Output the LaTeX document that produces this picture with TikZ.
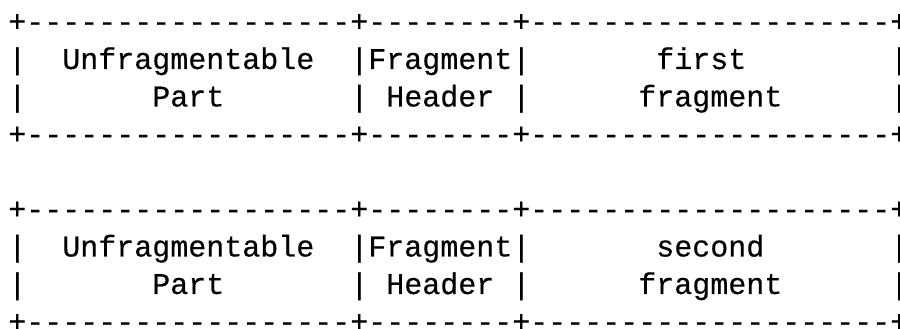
\documentclass[tikz,border=0pt]{standalone}
\usepackage{fontspec}
\setmonofont[FakeBold=0.4]{Liberation Mono}
\tikzset{
  asc/.style={font=\ttfamily\fontsize{30}{30}\selectfont, anchor=base west,
              inner sep=0pt, outer sep=0pt, text=black}
}
% \ascput{name}{column}{baseline y in pt}{text}
\newcommand\ascput[4]{\node[asc] (#1) at ({8.3pt+18pt*#2},{#3pt}) {#4};}
\begin{document}
\begin{tikzpicture}
\useasboundingbox[fill=white] (0,0) rectangle (900pt,329pt);
% ---- first packet ----
\ascput{aTop}{0}{297.5}{+------------------+--------+--------------------+}
\ascput{aL1a}{0}{260}{|}
\ascput{aUnf}{3}{260}{Unfragmentable}
\ascput{aL1b}{19}{260}{|}
\ascput{aFrag}{20}{260}{Fragment}
\ascput{aL1c}{28}{260}{|}
\ascput{aFirst}{36}{260}{first}
\ascput{aL1d}{49}{260}{|}
\ascput{aL2a}{0}{222.5}{|}
\ascput{aPart}{8}{222.5}{Part}
\ascput{aL2b}{19}{222.5}{|}
\ascput{aHead}{21}{222.5}{Header}
\ascput{aL2c}{28}{222.5}{|}
\ascput{aFragm}{35}{222.5}{fragment}
\ascput{aL2d}{49}{222.5}{|}
\ascput{aBot}{0}{185}{+------------------+--------+--------------------+}
% ---- second packet ----
\ascput{bTop}{0}{110}{+------------------+--------+--------------------+}
\ascput{bL1a}{0}{72.5}{|}
\ascput{bUnf}{3}{72.5}{Unfragmentable}
\ascput{bL1b}{19}{72.5}{|}
\ascput{bFrag}{20}{72.5}{Fragment}
\ascput{bL1c}{28}{72.5}{|}
\ascput{bSecond}{36}{72.5}{second}
\ascput{bL1d}{49}{72.5}{|}
\ascput{bL2a}{0}{35}{|}
\ascput{bPart}{8}{35}{Part}
\ascput{bL2b}{19}{35}{|}
\ascput{bHead}{21}{35}{Header}
\ascput{bL2c}{28}{35}{|}
\ascput{bFragm}{35}{35}{fragment}
\ascput{bL2d}{49}{35}{|}
\ascput{bBot}{0}{-2.5}{+------------------+--------+--------------------+}
\end{tikzpicture}
\end{document}
